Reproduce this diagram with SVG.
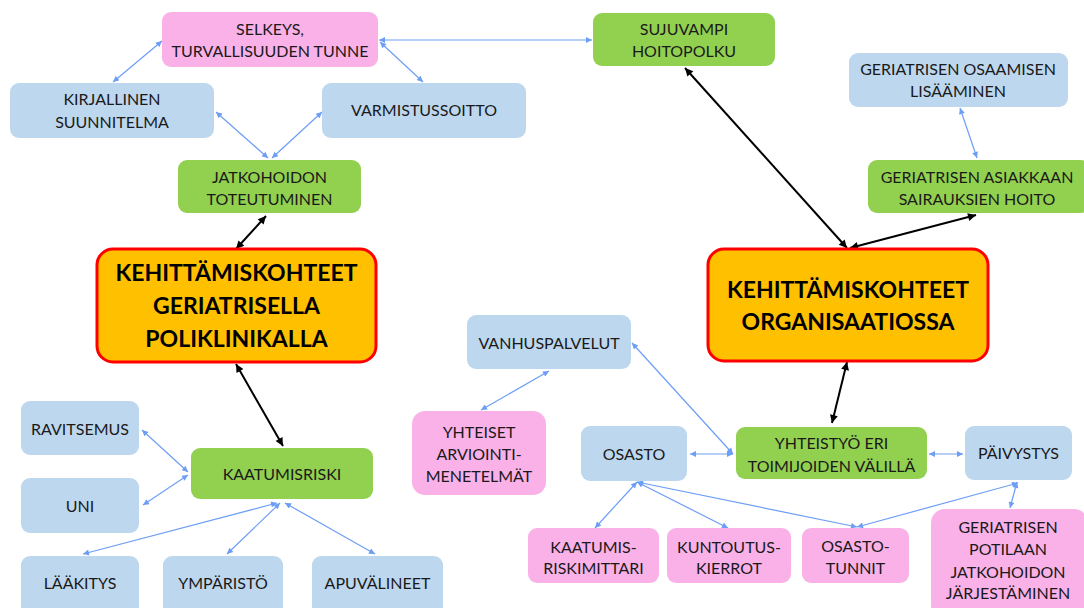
<svg xmlns="http://www.w3.org/2000/svg" width="1084" height="608" viewBox="0 0 1084 608">
<defs>
<style>
.n rect{stroke:none}
.blue{fill:#BDD7EE}
.green{fill:#92D050}
.pink{fill:#F9B1E8}
.n rect.main{fill:#FFC000;stroke:#FF0000;stroke-width:3}
text{font-family:Lato,"Liberation Sans",sans-serif;font-size:16px;fill:#1a1a1a;text-anchor:middle}
text.b{font-weight:bold;font-size:23px;fill:#000}
.cb{stroke:#6D9EF5;stroke-width:1.2;fill:none;marker-start:url(#ab);marker-end:url(#ab)}
.ck{stroke:#000;stroke-width:2;fill:none;marker-start:url(#ak);marker-end:url(#ak)}
</style>
<marker id="ab" viewBox="0 0 10 10" refX="10" refY="5" markerWidth="7" markerHeight="6" markerUnits="userSpaceOnUse" orient="auto-start-reverse"><path d="M0,0 L10,5 L0,10 z" fill="#6D9EF5"/></marker>
<marker id="ak" viewBox="0 0 10 10" refX="10" refY="5" markerWidth="9" markerHeight="8" markerUnits="userSpaceOnUse" orient="auto-start-reverse"><path d="M0,0 L10,5 L0,10 z" fill="#000"/></marker>
</defs>
<rect width="1084" height="608" fill="#fff"/>

<g id="connectors">
<line class="cb" x1="162" y1="41" x2="113" y2="82"/>
<line class="cb" x1="380" y1="42" x2="423" y2="82"/>
<line class="cb" x1="379" y1="40" x2="592" y2="40"/>
<line class="cb" x1="216" y1="112" x2="268" y2="158"/>
<line class="cb" x1="322" y1="112" x2="272" y2="158"/>
<line class="cb" x1="960" y1="108" x2="977" y2="158"/>
<line class="cb" x1="142" y1="430" x2="188" y2="472"/>
<line class="cb" x1="143" y1="505" x2="188" y2="475"/>
<line class="cb" x1="277" y1="503" x2="83" y2="554"/>
<line class="cb" x1="280" y1="503" x2="227" y2="554"/>
<line class="cb" x1="285" y1="503" x2="375" y2="554"/>
<line class="cb" x1="549" y1="371" x2="481" y2="410"/>
<line class="cb" x1="632" y1="343" x2="733" y2="454"/>
<line class="cb" x1="690" y1="454" x2="733" y2="454"/>
<line class="cb" x1="929" y1="454" x2="963" y2="454"/>
<line class="cb" x1="637" y1="482" x2="595" y2="528"/>
<line class="cb" x1="637" y1="482" x2="728" y2="528"/>
<line class="cb" x1="637" y1="482" x2="857" y2="527"/>
<line class="cb" x1="1018" y1="483" x2="857" y2="527"/>
<line class="cb" x1="1017" y1="482" x2="1010" y2="508"/>
<line class="ck" x1="266" y1="216" x2="236" y2="249"/>
<line class="ck" x1="236" y1="364" x2="283" y2="446"/>
<line class="ck" x1="685" y1="68" x2="847" y2="248"/>
<line class="ck" x1="976" y1="215" x2="850" y2="248"/>
<line class="ck" x1="847" y1="362" x2="832" y2="423"/>
</g>

<g id="selkeys" class="n"><rect class="pink" x="162" y="12" width="216" height="55" rx="9"/><text x="270" y="35">SELKEYS,</text><text x="270" y="57">TURVALLISUUDEN TUNNE</text></g>
<g id="sujuvampi" class="n"><rect class="green" x="593" y="13" width="182" height="53" rx="9"/><text x="684" y="35">SUJUVAMPI</text><text x="684" y="57">HOITOPOLKU</text></g>
<g id="kirjallinen" class="n"><rect class="blue" x="10" y="83" width="204" height="55" rx="9"/><text x="112" y="105">KIRJALLINEN</text><text x="112" y="128">SUUNNITELMA</text></g>
<g id="varmistussoitto" class="n"><rect class="blue" x="322" y="83" width="204" height="55" rx="9"/><text x="424" y="116">VARMISTUSSOITTO</text></g>
<g id="geriatrisen-osaamisen" class="n"><rect class="blue" x="849" y="53" width="219" height="54" rx="9"/><text x="958" y="75">GERIATRISEN OSAAMISEN</text><text x="958" y="97">LISÄÄMINEN</text></g>
<g id="jatkohoidon" class="n"><rect class="green" x="178" y="160" width="183" height="53" rx="9"/><text x="269.5" y="183">JATKOHOIDON</text><text x="269.5" y="205">TOTEUTUMINEN</text></g>
<g id="geriatrisen-asiakkaan" class="n"><rect class="green" x="868" y="160" width="222" height="53" rx="9"/><text x="977" y="183">GERIATRISEN ASIAKKAAN</text><text x="977" y="205">SAIRAUKSIEN HOITO</text></g>
<g id="poliklinikka" class="n"><rect class="main" x="97" y="249" width="279" height="113" rx="16"/><text class="b" x="236.5" y="281">KEHITTÄMISKOHTEET</text><text class="b" x="236.5" y="314">GERIATRISELLA</text><text class="b" x="236.5" y="347">POLIKLINIKALLA</text></g>
<g id="organisaatio" class="n"><rect class="main" x="708" y="249" width="280" height="112" rx="16"/><text class="b" x="848" y="298">KEHITTÄMISKOHTEET</text><text class="b" x="848" y="330">ORGANISAATIOSSA</text></g>
<g id="vanhuspalvelut" class="n"><rect class="blue" x="467" y="315" width="164" height="54" rx="9"/><text x="549" y="349">VANHUSPALVELUT</text></g>
<g id="yhteiset" class="n"><rect class="pink" x="412" y="411" width="134" height="84" rx="13"/><text x="479" y="438">YHTEISET</text><text x="479" y="460">ARVIOINTI-</text><text x="479" y="482">MENETELMÄT</text></g>
<g id="osasto" class="n"><rect class="blue" x="581" y="426" width="106" height="55" rx="9"/><text x="634" y="460">OSASTO</text></g>
<g id="yhteistyo" class="n"><rect class="green" x="736" y="427" width="191" height="52" rx="9"/><text x="831.5" y="449">YHTEISTYÖ ERI</text><text x="831.5" y="472">TOIMIJOIDEN VÄLILLÄ</text></g>
<g id="paivystys" class="n"><rect class="blue" x="965" y="426" width="107" height="54" rx="9"/><text x="1018.5" y="459">PÄIVYSTYS</text></g>
<g id="ravitsemus" class="n"><rect class="blue" x="21" y="401" width="118" height="54" rx="9"/><text x="80" y="435">RAVITSEMUS</text></g>
<g id="uni" class="n"><rect class="blue" x="21" y="478" width="118" height="55" rx="9"/><text x="80" y="512">UNI</text></g>
<g id="kaatumisriski" class="n"><rect class="green" x="191" y="448" width="182" height="51" rx="9"/><text x="282" y="480">KAATUMISRISKI</text></g>
<g id="laakitys" class="n"><rect class="blue" x="21" y="556" width="118" height="62" rx="9"/><text x="80" y="589">LÄÄKITYS</text></g>
<g id="ymparisto" class="n"><rect class="blue" x="163" y="556" width="120" height="62" rx="9"/><text x="223" y="589">YMPÄRISTÖ</text></g>
<g id="apuvalineet" class="n"><rect class="blue" x="312" y="556" width="131" height="62" rx="9"/><text x="377.5" y="589">APUVÄLINEET</text></g>
<g id="kaatumisriskimittari" class="n"><rect class="pink" x="528" y="528" width="131" height="55" rx="9"/><text x="593.5" y="553">KAATUMIS-</text><text x="593.5" y="574">RISKIMITTARI</text></g>
<g id="kuntoutuskierrot" class="n"><rect class="pink" x="667" y="528" width="124" height="55" rx="9"/><text x="729" y="553">KUNTOUTUS-</text><text x="729" y="574">KIERROT</text></g>
<g id="osastotunnit" class="n"><rect class="pink" x="802" y="528" width="107" height="55" rx="9"/><text x="855.5" y="552">OSASTO-</text><text x="855.5" y="574">TUNNIT</text></g>
<g id="geriatrisen-potilaan" class="n"><rect class="pink" x="931" y="509" width="157" height="110" rx="14"/><text x="1008" y="533">GERIATRISEN</text><text x="1008" y="555">POTILAAN</text><text x="1008" y="578">JATKOHOIDON</text><text x="1008" y="599">JÄRJESTÄMINEN</text></g>
</svg>
